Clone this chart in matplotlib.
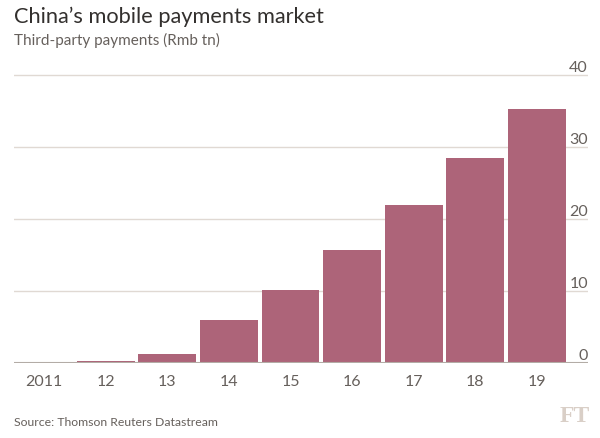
import matplotlib
matplotlib.use("Agg")
import matplotlib.pyplot as plt

years = ["2011", "12", "13", "14", "15", "16", "17", "18", "19"]
values = [0.05, 0.25, 1.25, 6.0, 10.1, 15.7, 21.9, 28.5, 35.3]
yticks = [0, 10, 20, 30, 40]

W, H = 600, 438
fig = plt.figure(figsize=(W / 100, H / 100), dpi=100)
fig.patch.set_facecolor("white")
plt.rcParams['font.family'] = ['Lato', 'DejaVu Sans']

px_per_unit = 7.2
y0 = 363
ytop_val = 41
left, right = 14, 588
ax = fig.add_axes([left / W, (H - y0) / H, (right - left) / W, (ytop_val * px_per_unit) / H])
ax.set_facecolor("white")

x = list(range(len(years)))
ax.bar(x, values, width=0.94, color="#ad6479", zorder=3)
ax.set_xlim(-0.49, 8.83)
ax.set_ylim(0, ytop_val)

for s in ax.spines.values():
    s.set_visible(False)
ax.set_yticks(yticks)
ax.yaxis.grid(True, color="#e0d9d3", linewidth=1, zorder=0)
ax.axhline(0, color="#b3aca6", linewidth=1.5, zorder=4)
ax.yaxis.tick_right()
ax.tick_params(axis="y", length=0, pad=0, labelsize=11.5, labelcolor="#66605c")
ax.set_yticklabels([str(t) for t in yticks])
for lab in ax.get_yticklabels():
    lab.set_horizontalalignment("right")
    lab.set_verticalalignment("bottom")

ax.set_xticks(x)
ax.set_xticklabels(years)
ax.tick_params(axis="x", length=0, pad=9, labelsize=11.5, labelcolor="#66605c")

fig.text(14 / W, 1 - 7 / H, "China\u2019s mobile payments market", fontsize=15.7,
         color="#33302e", va="top", ha="left")
fig.text(14 / W, 1 - 33 / H, "Third-party payments (Rmb tn)", fontsize=11,
         color="#66605c", va="top", ha="left")
fig.text(14 / W, 1 - 423 / H, "Source: Thomson Reuters Datastream", fontsize=8.8,
         color="#66605c", va="center", ha="left")
fig.text(590 / W, 1 - 417 / H, "FT", fontsize=17, color="#d9cfc7", va="center", ha="right",
         family=["Liberation Serif"], fontweight="bold")

fig.savefig("out.png", dpi=100, facecolor="white")
